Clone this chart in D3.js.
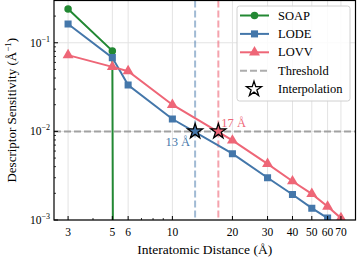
<!DOCTYPE html>
<html><head><meta charset="utf-8">
<script src="https://cdn.jsdelivr.net/npm/d3@7"></script>
<style>body{margin:0;background:#fff}svg{display:block}</style>
</head><body><svg id="c" width="357" height="260"></svg>
<script>
const soapX = [3, 5, 6];
const soapY = [0.24, 0.081, 0];
const lodeX = [3, 5, 6, 10, 20, 30, 40, 50, 60];
const lodeY = [0.163, 0.068, 0.0334, 0.0138, 0.0056, 0.0030, 0.00194, 0.00136, 0.00105];
const lovvX = [3, 5, 6, 10, 20, 30, 40, 50, 60, 70];
const lovvY = [0.0726, 0.0535, 0.0478, 0.020, 0.0079, 0.0043, 0.00274, 0.00197, 0.00142, 0.00105];
const threshold = 0.01;
const interpX = [13, 17];
const xTicks = [3, 5, 6, 10, 20, 30, 40, 50, 60, 70];
const xMinor = [4, 7, 8, 9];
const yTicks = [1e-3, 1e-2, 1e-1];
const yTickExp = ["−3", "−2", "−1"];

const FONT = "Liberation Serif";
const C = {soap:"#228833", lode:"#4477AA", lovv:"#EE6677"};
const svg = d3.select("#c").attr("font-family", FONT);
const L = 54, R = 355.5, T = 0.5, B = 220;
const x = d3.scaleLog().domain([2.55, 82.8]).range([L, R]);
const y = d3.scaleLog().domain([1e-3, 0.3]).range([B, T]);

svg.append("defs").append("clipPath").attr("id","clip").append("rect")
  .attr("x",L).attr("y",T).attr("width",R-L).attr("height",B-T);

const g = svg.append("g");
g.selectAll(".gx").data(xTicks).join("line")
  .attr("x1",d=>x(d)).attr("x2",d=>x(d)).attr("y1",T).attr("y2",B)
  .attr("stroke","#e3e3e3").attr("stroke-width",1);
g.selectAll(".gy").data(yTicks).join("line")
  .attr("y1",d=>y(d)).attr("y2",d=>y(d)).attr("x1",L).attr("x2",R)
  .attr("stroke","#e3e3e3").attr("stroke-width",1);

const pg = svg.append("g").attr("clip-path","url(#clip)");
pg.append("line").attr("x1",L).attr("x2",R).attr("y1",y(threshold)).attr("y2",y(threshold))
  .attr("stroke","#999").attr("stroke-width",2).attr("stroke-dasharray","7,3").attr("opacity",0.9);
pg.append("line").attr("x1",x(interpX[0])).attr("x2",x(interpX[0])).attr("y1",T).attr("y2",B)
  .attr("stroke",C.lode).attr("stroke-width",2).attr("stroke-dasharray","7,3").attr("opacity",0.5);
pg.append("line").attr("x1",x(interpX[1])).attr("x2",x(interpX[1])).attr("y1",T).attr("y2",B)
  .attr("stroke",C.lovv).attr("stroke-width",2).attr("stroke-dasharray","7,3").attr("opacity",0.6);

function sym(shape){
  return d3.symbol().type(shape).size(shape===d3.symbolTriangle?52:(shape===d3.symbolSquare?50:44))();
}
function series(xs, ys, col, shape){
  const pts = xs.map((d,i)=>[d, ys[i] > 0 ? ys[i] : 1e-300]);
  const line = d3.line().x(d=>x(d[0])).y(d=>Math.min(y(d[1]), 5000));
  pg.append("path").datum(pts).attr("d",line).attr("fill","none")
    .attr("stroke",col).attr("stroke-width",2);
  const vis = pts.filter(d=>d[1] > 1e-100);
  pg.selectAll(null).data(vis).join("path")
    .attr("transform",d=>`translate(${x(d[0])},${y(d[1])})`)
    .attr("d", sym(shape)).attr("fill",col);
}
series(soapX, soapY, C.soap, d3.symbolCircle);
series(lodeX, lodeY, C.lode, d3.symbolSquare);
series(lovvX, lovvY, C.lovv, d3.symbolTriangle);

const star = d3.symbol().type(d3.symbolStar).size(70)();
svg.append("path").attr("d",star).attr("transform",`translate(${x(interpX[0])},${y(threshold)})`)
  .attr("fill",C.lode).attr("stroke","#000").attr("stroke-width",1.3);
svg.append("path").attr("d",star).attr("transform",`translate(${x(interpX[1])},${y(threshold)})`)
  .attr("fill",C.lovv).attr("stroke","#000").attr("stroke-width",1.3);
svg.append("text").attr("x",x(interpX[0])-5).attr("y",y(threshold)+15).attr("text-anchor","end")
  .attr("font-size",12.5).attr("fill",C.lode).text(interpX[0]+" Å");
svg.append("text").attr("x",x(interpX[1])+3).attr("y",y(threshold)-4)
  .attr("font-size",12.5).attr("fill",C.lovv).text(interpX[1]+" Å");

svg.append("rect").attr("x",L).attr("y",T).attr("width",R-L).attr("height",B-T)
  .attr("fill","none").attr("stroke","#000").attr("stroke-width",1.2);

svg.selectAll(".xt").data(xTicks).join("line")
  .attr("x1",d=>x(d)).attr("x2",d=>x(d)).attr("y1",B).attr("y2",B-4).attr("stroke","#000").attr("stroke-width",1);
svg.selectAll(".xm").data(xMinor).join("line")
  .attr("x1",d=>x(d)).attr("x2",d=>x(d)).attr("y1",B).attr("y2",B-2).attr("stroke","#000").attr("stroke-width",0.8);
svg.selectAll(".xl").data(xTicks).join("text")
  .attr("x",d=>x(d)).attr("y",B+16).attr("text-anchor","middle").attr("font-size",11.5).text(d=>d);
svg.append("text").attr("x",(L+R)/2).attr("y",254).attr("text-anchor","middle").attr("font-size",13.5)
  .text("Interatomic Distance (Å)");

const yMinor = [];
[1e-3,1e-2,1e-1].forEach(b=>{for(let k=2;k<10;k++){const v=b*k; if(v<0.3) yMinor.push(v);}});
svg.selectAll(".yt").data(yTicks).join("line")
  .attr("y1",d=>y(d)).attr("y2",d=>y(d)).attr("x1",L).attr("x2",L+4).attr("stroke","#000");
svg.selectAll(".ym").data(yMinor).join("line")
  .attr("y1",d=>y(d)).attr("y2",d=>y(d)).attr("x1",L).attr("x2",L+2).attr("stroke","#000").attr("stroke-width",0.8);
const yl = svg.selectAll(".yl").data(yTicks).join("text")
  .attr("x",L-4).attr("y",d=>y(d)+4).attr("text-anchor","end").attr("font-size",11.5);
yl.append("tspan").text("10");
yl.append("tspan").attr("dy",-5).attr("font-size",8).text((d,i)=>yTickExp[i]);

const ylab = svg.append("text").attr("transform",`translate(16,${(T+B)/2}) rotate(-90)`)
  .attr("text-anchor","middle").attr("font-size",13);
ylab.append("tspan").text("Descriptor Sensitivity (Å");
ylab.append("tspan").attr("dy",-5).attr("font-size",9).text("−1");
ylab.append("tspan").attr("dy",5).text(")");

const lg = svg.append("g").attr("transform","translate(237,6)");
lg.append("rect").attr("width",113).attr("height",95).attr("rx",2.5).attr("fill","#fff")
  .attr("fill-opacity",0.85).attr("stroke","#d0d0d0").attr("stroke-width",1);
const items = [
  {name:"SOAP", col:C.soap, shape:d3.symbolCircle},
  {name:"LODE", col:C.lode, shape:d3.symbolSquare},
  {name:"LOVV", col:C.lovv, shape:d3.symbolTriangle},
  {name:"Threshold", col:"#999", dash:true},
  {name:"Interpolation", star:true}
];
items.forEach((it,i)=>{
  const yy = 9.5 + i*18.4;
  if(it.star){
    lg.append("path").attr("d",star).attr("transform",`translate(17,${yy})`)
      .attr("fill","#fff").attr("stroke","#000").attr("stroke-width",1.3);
  } else {
    lg.append("line").attr("x1",3).attr("x2",32).attr("y1",yy).attr("y2",yy)
      .attr("stroke",it.col).attr("stroke-width",2).attr("stroke-dasharray",it.dash?"7,3":null)
      .attr("opacity",it.dash?0.8:1);
    if(it.shape) lg.append("path").attr("transform",`translate(17.5,${yy})`)
      .attr("d",sym(it.shape)).attr("fill",it.col);
  }
  lg.append("text").attr("x",41).attr("y",yy+4).attr("font-size",12.5).text(it.name);
});
</script></body></html>
